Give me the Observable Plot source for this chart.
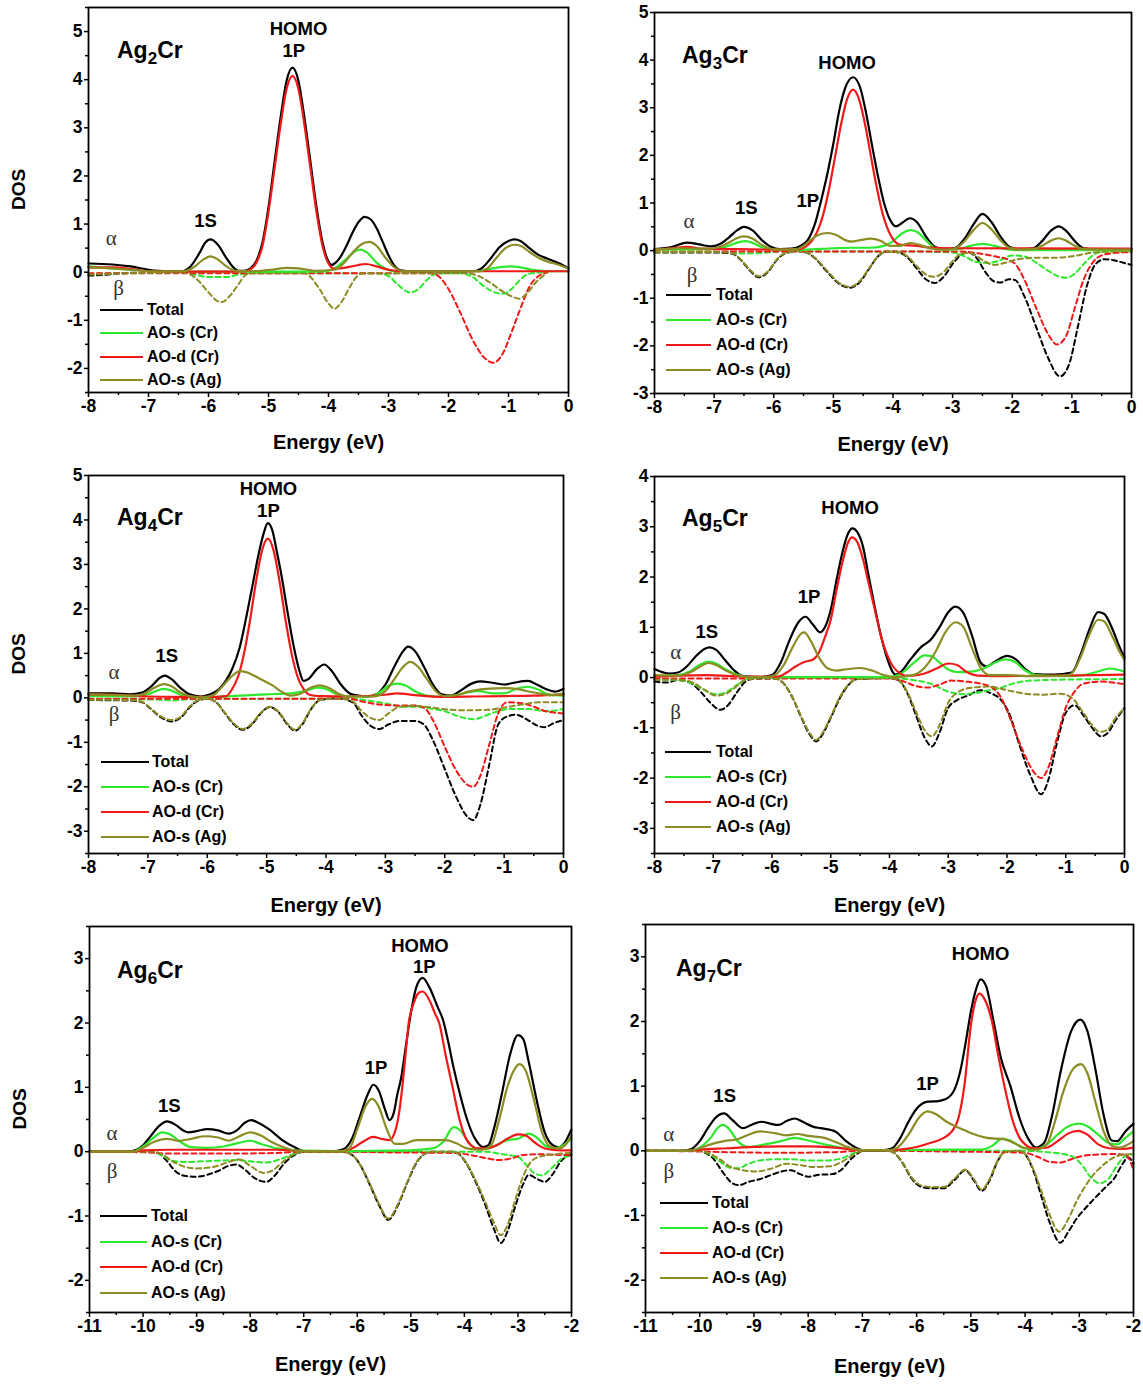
<!DOCTYPE html>
<html>
<head>
<meta charset="utf-8">
<script src="https://cdn.jsdelivr.net/npm/d3@7"></script>
<script src="https://cdn.jsdelivr.net/npm/@observablehq/plot@0.6"></script>
<style>
body{margin:0;background:#fff;}
#wrap{position:relative;width:1143px;height:1384px;overflow:hidden;font-family:"Liberation Sans",Arial,sans-serif;color:#000;}
.cmp{position:absolute;font-weight:bold;font-size:23px;line-height:23px;white-space:nowrap;}
.cmp span{position:relative;top:6px;font-size:17px;}
.leg{position:absolute;font-weight:bold;font-size:16px;line-height:20px;white-space:nowrap;}
</style>
</head>
<body>
<div id="wrap"></div>
<script>
// ---------------- DATA ([energy eV, DOS]) ----------------
// Ag2Cr
const a2_tot_a = [[-8,0.18],[-7.6,0.16],[-7.3,0.12],[-7,0.05],[-6.7,0.02],[-6.45,0.02],[-6.3,0.12],[-6.15,0.4],[-6.05,0.62],[-5.97,0.68],[-5.85,0.58],[-5.72,0.33],[-5.6,0.12],[-5.5,0.03],[-5.4,0.03],[-5.3,0.08],[-5.2,0.24],[-5.1,0.62],[-5.0,1.35],[-4.9,2.28],[-4.8,3.2],[-4.7,3.97],[-4.6,4.25],[-4.5,3.97],[-4.4,3.2],[-4.3,2.28],[-4.2,1.35],[-4.1,0.62],[-4.0,0.22],[-3.95,0.15],[-3.88,0.2],[-3.8,0.32],[-3.7,0.55],[-3.6,0.82],[-3.5,1.04],[-3.4,1.15],[-3.3,1.1],[-3.2,0.92],[-3.1,0.64],[-3.0,0.35],[-2.9,0.13],[-2.8,0.04],[-2.6,0.02],[-1.6,0.02],[-1.45,0.08],[-1.3,0.28],[-1.15,0.52],[-1.0,0.65],[-0.9,0.68],[-0.8,0.65],[-0.65,0.5],[-0.5,0.36],[-0.35,0.28],[-0.15,0.18],[0,0.08]];
const a2_crs_a = [[-8,0.12],[-7.6,0.08],[-7.2,0.04],[-6.8,0.01],[-4.2,0.01],[-4.0,0.03],[-3.85,0.12],[-3.7,0.28],[-3.55,0.44],[-3.47,0.47],[-3.35,0.4],[-3.2,0.2],[-3.05,0.07],[-2.9,0.02],[-1.5,0.02],[-1.3,0.07],[-1.1,0.11],[-0.95,0.12],[-0.8,0.1],[-0.6,0.05],[-0.3,0.02],[0,0.02]];
const a2_crd_a = [[-8,0.1],[-7.6,0.1],[-7.3,0.07],[-7.0,0.02],[-6.5,0.01],[-5.6,0.01],[-5.4,0.02],[-5.3,0.06],[-5.2,0.2],[-5.1,0.55],[-5.0,1.25],[-4.9,2.15],[-4.8,3.05],[-4.7,3.8],[-4.6,4.08],[-4.5,3.8],[-4.4,3.05],[-4.3,2.15],[-4.2,1.25],[-4.1,0.55],[-4.0,0.18],[-3.9,0.07],[-3.8,0.08],[-3.65,0.11],[-3.5,0.15],[-3.38,0.17],[-3.2,0.12],[-3.0,0.05],[-2.8,0.02],[0,0.02]];
const a2_ags_a = [[-8,0.1],[-7.6,0.08],[-7.2,0.04],[-6.8,0.01],[-6.4,0.02],[-6.25,0.1],[-6.1,0.25],[-5.97,0.33],[-5.85,0.27],[-5.7,0.12],[-5.55,0.03],[-5.3,0.02],[-4.9,0.06],[-4.7,0.09],[-4.5,0.08],[-4.2,0.03],[-3.9,0.05],[-3.75,0.18],[-3.6,0.4],[-3.45,0.58],[-3.32,0.63],[-3.2,0.55],[-3.05,0.3],[-2.9,0.1],[-2.75,0.02],[-1.5,0.02],[-1.35,0.08],[-1.2,0.3],[-1.05,0.5],[-0.9,0.57],[-0.8,0.55],[-0.65,0.42],[-0.5,0.3],[-0.35,0.22],[-0.15,0.15],[0,0.07]];
const a2_tot_b = [[-8,-0.07],[-7.8,-0.06],[-7.6,-0.04],[-7.4,-0.02],[-7.2,-0.01]];
const a2_crs_b = [[-8,-0.03],[-6.4,-0.01],[-6.2,-0.06],[-6.0,-0.1],[-5.7,-0.1],[-5.5,-0.05],[-5.3,-0.02],[-3.2,-0.02],[-3.0,-0.08],[-2.85,-0.25],[-2.65,-0.42],[-2.5,-0.35],[-2.35,-0.15],[-2.2,-0.03],[-1.8,-0.02],[-1.6,-0.1],[-1.4,-0.3],[-1.2,-0.43],[-1.1,-0.45],[-0.95,-0.35],[-0.8,-0.15],[-0.65,-0.03],[-0.4,0]];
const a2_crd_b = [[-8,-0.02],[-2.3,-0.02],[-2.15,-0.1],[-2.0,-0.35],[-1.8,-0.85],[-1.6,-1.4],[-1.4,-1.78],[-1.25,-1.88],[-1.1,-1.7],[-0.95,-1.25],[-0.8,-0.75],[-0.65,-0.3],[-0.5,-0.08],[-0.4,-0.02],[-0.35,0]];
const a2_ags_b = [[-8,-0.05],[-7.5,-0.03],[-6.4,-0.01],[-6.3,-0.05],[-6.15,-0.2],[-6.0,-0.42],[-5.85,-0.6],[-5.78,-0.62],[-5.65,-0.5],[-5.5,-0.25],[-5.4,-0.08],[-5.3,-0.02],[-4.4,-0.02],[-4.3,-0.1],[-4.15,-0.35],[-4.0,-0.65],[-3.9,-0.76],[-3.8,-0.65],[-3.65,-0.32],[-3.55,-0.12],[-3.45,-0.03],[-1.7,-0.02],[-1.5,-0.08],[-1.3,-0.22],[-1.1,-0.4],[-0.95,-0.5],[-0.82,-0.55],[-0.7,-0.45],[-0.55,-0.22],[-0.4,-0.05],[-0.35,0]];

// Ag3Cr
const a3_tot_a = [[-8,0.03],[-7.7,0.08],[-7.45,0.17],[-7.25,0.13],[-7.06,0.09],[-6.9,0.14],[-6.75,0.28],[-6.6,0.44],[-6.5,0.5],[-6.35,0.42],[-6.2,0.22],[-6.05,0.08],[-5.9,0.03],[-5.7,0.04],[-5.55,0.1],[-5.43,0.22],[-5.3,0.6],[-5.2,1.08],[-5.1,1.62],[-5.0,2.25],[-4.9,2.95],[-4.8,3.42],[-4.67,3.64],[-4.55,3.42],[-4.45,2.88],[-4.35,2.2],[-4.25,1.55],[-4.15,1.0],[-4.05,0.65],[-3.95,0.51],[-3.85,0.58],[-3.72,0.68],[-3.6,0.6],[-3.45,0.3],[-3.3,0.08],[-3.15,0.03],[-2.95,0.06],[-2.8,0.25],[-2.65,0.55],[-2.5,0.77],[-2.35,0.6],[-2.2,0.3],[-2.05,0.08],[-1.9,0.03],[-1.65,0.05],[-1.5,0.2],[-1.35,0.42],[-1.22,0.51],[-1.1,0.42],[-0.95,0.2],[-0.8,0.05],[-0.6,0.03],[0,0.03]];
const a3_crs_a = [[-8,0.02],[-7.0,0.03],[-6.85,0.06],[-6.7,0.13],[-6.55,0.19],[-6.47,0.2],[-6.35,0.16],[-6.2,0.07],[-6.05,0.02],[-5.5,0.02],[-5.0,0.05],[-4.7,0.06],[-4.4,0.06],[-4.15,0.1],[-4.0,0.2],[-3.85,0.36],[-3.7,0.43],[-3.58,0.38],[-3.45,0.22],[-3.3,0.06],[-3.15,0.02],[-2.9,0.03],[-2.7,0.1],[-2.5,0.14],[-2.3,0.1],[-2.1,0.03],[-1.9,0.01],[0,0.01]];
const a3_crd_a = [[-8,0.02],[-7.7,0.05],[-7.45,0.08],[-7.2,0.04],[-6.6,0.03],[-5.8,0.02],[-5.57,0.03],[-5.47,0.08],[-5.37,0.19],[-5.27,0.4],[-5.17,0.76],[-5.07,1.31],[-4.97,1.98],[-4.87,2.66],[-4.77,3.18],[-4.67,3.38],[-4.57,3.18],[-4.47,2.66],[-4.37,1.98],[-4.27,1.31],[-4.17,0.76],[-4.07,0.4],[-3.97,0.19],[-3.87,0.12],[-3.6,0.1],[-3.4,0.07],[-3.0,0.05],[0,0.04]];
const a3_ags_a = [[-8,0.02],[-7.5,0.05],[-7.1,0.04],[-6.9,0.08],[-6.75,0.17],[-6.6,0.27],[-6.5,0.3],[-6.35,0.25],[-6.2,0.12],[-6.05,0.04],[-5.9,0.02],[-5.6,0.04],[-5.45,0.15],[-5.3,0.3],[-5.1,0.37],[-4.95,0.33],[-4.8,0.22],[-4.7,0.19],[-4.55,0.22],[-4.38,0.25],[-4.2,0.2],[-4.05,0.1],[-3.9,0.1],[-3.72,0.16],[-3.55,0.12],[-3.35,0.04],[-3.1,0.02],[-2.95,0.05],[-2.8,0.2],[-2.65,0.43],[-2.5,0.58],[-2.35,0.45],[-2.2,0.22],[-2.05,0.06],[-1.9,0.02],[-1.65,0.03],[-1.5,0.1],[-1.35,0.21],[-1.22,0.26],[-1.1,0.21],[-0.95,0.1],[-0.8,0.03],[0,0.02]];
const a3_tot_b = [[-8,-0.04],[-7.0,-0.04],[-6.7,-0.06],[-6.55,-0.2],[-6.4,-0.42],[-6.25,-0.56],[-6.1,-0.45],[-5.95,-0.2],[-5.8,-0.05],[-5.6,-0.01],[-5.45,-0.04],[-5.3,-0.17],[-5.1,-0.45],[-4.9,-0.7],[-4.72,-0.78],[-4.55,-0.65],[-4.4,-0.38],[-4.25,-0.12],[-4.1,-0.02],[-3.9,-0.04],[-3.75,-0.15],[-3.6,-0.38],[-3.45,-0.6],[-3.3,-0.68],[-3.15,-0.55],[-3.0,-0.28],[-2.85,-0.08],[-2.75,-0.03],[-2.6,-0.15],[-2.45,-0.45],[-2.3,-0.65],[-2.2,-0.67],[-2.05,-0.6],[-1.95,-0.62],[-1.8,-0.95],[-1.6,-1.6],[-1.4,-2.25],[-1.2,-2.64],[-1.05,-2.4],[-0.9,-1.6],[-0.75,-0.75],[-0.6,-0.28],[-0.45,-0.18],[-0.3,-0.2],[-0.15,-0.25],[0,-0.3]];
const a3_crs_b = [[-8,-0.03],[-6.8,-0.03],[-6.5,-0.06],[-6.2,-0.05],[-5.9,-0.02],[-3.5,-0.02],[-3.0,-0.04],[-2.8,-0.12],[-2.6,-0.24],[-2.4,-0.26],[-2.2,-0.2],[-2.0,-0.1],[-1.8,-0.12],[-1.6,-0.25],[-1.4,-0.42],[-1.2,-0.55],[-1.08,-0.57],[-0.95,-0.48],[-0.8,-0.28],[-0.65,-0.1],[-0.5,-0.03],[0,-0.01]];
const a3_crd_b = [[-8,-0.02],[-2.9,-0.02],[-2.6,-0.05],[-2.3,-0.12],[-2.05,-0.2],[-1.95,-0.28],[-1.8,-0.6],[-1.6,-1.2],[-1.4,-1.75],[-1.25,-1.97],[-1.1,-1.8],[-0.95,-1.2],[-0.8,-0.6],[-0.65,-0.25],[-0.5,-0.1],[-0.3,-0.05],[0,-0.03]];
const a3_ags_b = [[-8,-0.03],[-7.0,-0.03],[-6.7,-0.05],[-6.55,-0.19],[-6.4,-0.4],[-6.25,-0.54],[-6.1,-0.44],[-5.95,-0.19],[-5.8,-0.05],[-5.6,-0.01],[-5.45,-0.04],[-5.3,-0.16],[-5.1,-0.43],[-4.9,-0.68],[-4.72,-0.76],[-4.55,-0.63],[-4.4,-0.37],[-4.25,-0.12],[-4.1,-0.02],[-3.9,-0.03],[-3.75,-0.13],[-3.6,-0.33],[-3.45,-0.5],[-3.32,-0.55],[-3.15,-0.45],[-3.0,-0.22],[-2.85,-0.06],[-2.7,-0.05],[-2.5,-0.2],[-2.3,-0.3],[-2.1,-0.25],[-1.9,-0.18],[-1.6,-0.15],[-1.3,-0.15],[-1.0,-0.12],[-0.7,-0.05],[-0.4,-0.02],[0,-0.01]];

// Ag4Cr
const a4_tot_a = [[-8,0.1],[-7.6,0.1],[-7.3,0.08],[-7.1,0.12],[-6.95,0.25],[-6.8,0.45],[-6.72,0.5],[-6.6,0.42],[-6.45,0.22],[-6.3,0.08],[-6.1,0.03],[-5.95,0.08],[-5.8,0.2],[-5.68,0.4],[-5.58,0.65],[-5.45,1.15],[-5.33,1.9],[-5.22,2.65],[-5.14,3.2],[-5.05,3.7],[-4.98,3.93],[-4.9,3.75],[-4.83,3.3],[-4.75,2.75],[-4.65,1.95],[-4.55,1.2],[-4.45,0.62],[-4.38,0.38],[-4.3,0.42],[-4.15,0.65],[-4.03,0.75],[-3.9,0.6],[-3.75,0.3],[-3.6,0.1],[-3.45,0.05],[-3.3,0.03],[-3.15,0.08],[-3.0,0.3],[-2.85,0.7],[-2.7,1.05],[-2.62,1.15],[-2.5,1.05],[-2.35,0.7],[-2.2,0.3],[-2.05,0.08],[-1.9,0.05],[-1.75,0.15],[-1.55,0.32],[-1.4,0.37],[-1.2,0.34],[-1.0,0.3],[-0.8,0.35],[-0.6,0.38],[-0.45,0.3],[-0.3,0.2],[-0.15,0.14],[0,0.2]];
const a4_crs_a = [[-8,0.04],[-7.2,0.03],[-7.0,0.08],[-6.85,0.16],[-6.73,0.2],[-6.6,0.16],[-6.45,0.07],[-6.3,0.02],[-6.0,0.01],[-5.6,0.04],[-5.0,0.08],[-4.6,0.1],[-4.35,0.15],[-4.15,0.23],[-4.0,0.2],[-3.85,0.1],[-3.65,0.03],[-3.3,0.03],[-3.1,0.12],[-2.95,0.27],[-2.8,0.32],[-2.65,0.27],[-2.5,0.15],[-2.3,0.05],[-2.05,0.02],[-1.8,0.06],[-1.6,0.13],[-1.42,0.15],[-1.2,0.1],[-1.0,0.1],[-0.8,0.2],[-0.6,0.25],[-0.45,0.2],[-0.25,0.08],[0,0.05]];
const a4_crd_a = [[-8,0.08],[-7.5,0.07],[-7.0,0.03],[-6.5,0.02],[-6.0,0.02],[-5.68,0.04],[-5.58,0.2],[-5.48,0.48],[-5.38,1.0],[-5.28,1.74],[-5.18,2.6],[-5.08,3.3],[-4.98,3.58],[-4.88,3.3],[-4.78,2.6],[-4.68,1.74],[-4.58,1.0],[-4.48,0.48],[-4.38,0.2],[-4.28,0.07],[-4.1,0.04],[-3.6,0.03],[-3.0,0.07],[-2.8,0.1],[-2.5,0.06],[-2.0,0.02],[-1.5,0.03],[-1.0,0.04],[-0.5,0.05],[0,0.08]];
const a4_ags_a = [[-8,0.08],[-7.5,0.06],[-7.2,0.05],[-7.05,0.1],[-6.9,0.22],[-6.73,0.31],[-6.6,0.26],[-6.45,0.12],[-6.3,0.04],[-6.1,0.01],[-5.9,0.06],[-5.75,0.25],[-5.6,0.47],[-5.45,0.6],[-5.35,0.58],[-5.1,0.42],[-4.9,0.28],[-4.75,0.14],[-4.6,0.05],[-4.45,0.08],[-4.3,0.2],[-4.1,0.28],[-3.95,0.22],[-3.8,0.1],[-3.6,0.03],[-3.2,0.03],[-3.0,0.15],[-2.85,0.42],[-2.7,0.7],[-2.58,0.81],[-2.45,0.7],[-2.3,0.42],[-2.15,0.15],[-2.0,0.04],[-1.8,0.06],[-1.6,0.14],[-1.3,0.2],[-1.0,0.22],[-0.8,0.2],[-0.5,0.12],[-0.2,0.06],[0,0.1]];
const a4_tot_b = [[-8,-0.05],[-7.3,-0.06],[-7.1,-0.1],[-6.95,-0.25],[-6.8,-0.42],[-6.6,-0.53],[-6.45,-0.45],[-6.3,-0.22],[-6.15,-0.06],[-6.0,-0.02],[-5.85,-0.1],[-5.7,-0.35],[-5.55,-0.6],[-5.4,-0.72],[-5.25,-0.6],[-5.1,-0.35],[-4.95,-0.21],[-4.8,-0.32],[-4.65,-0.6],[-4.52,-0.74],[-4.4,-0.6],[-4.25,-0.25],[-4.1,-0.05],[-3.8,-0.01],[-3.55,-0.1],[-3.4,-0.4],[-3.25,-0.63],[-3.1,-0.7],[-2.95,-0.6],[-2.75,-0.52],[-2.5,-0.52],[-2.35,-0.6],[-2.2,-0.95],[-2.0,-1.6],[-1.8,-2.25],[-1.6,-2.7],[-1.52,-2.75],[-1.4,-2.4],[-1.25,-1.5],[-1.1,-0.6],[-0.95,-0.42],[-0.8,-0.38],[-0.6,-0.5],[-0.45,-0.62],[-0.32,-0.66],[-0.15,-0.56],[0,-0.5]];
const a4_crs_b = [[-8,-0.03],[-6.8,-0.04],[-6.6,-0.06],[-6.3,-0.03],[-3.6,-0.02],[-3.2,-0.08],[-2.9,-0.15],[-2.7,-0.2],[-2.5,-0.2],[-2.2,-0.25],[-2.0,-0.3],[-1.8,-0.4],[-1.6,-0.47],[-1.5,-0.48],[-1.35,-0.42],[-1.15,-0.32],[-0.9,-0.25],[-0.6,-0.25],[-0.3,-0.3],[0,-0.25]];
const a4_crd_b = [[-8,-0.02],[-3.6,-0.02],[-3.4,-0.08],[-3.1,-0.15],[-2.8,-0.17],[-2.5,-0.17],[-2.35,-0.22],[-2.2,-0.5],[-2.0,-1.1],[-1.8,-1.65],[-1.6,-1.97],[-1.52,-2.0],[-1.4,-1.75],[-1.25,-1.05],[-1.1,-0.35],[-0.95,-0.1],[-0.7,-0.12],[-0.5,-0.2],[-0.3,-0.3],[0,-0.35]];
const a4_ags_b = [[-8,-0.04],[-7.3,-0.05],[-7.1,-0.09],[-6.95,-0.24],[-6.8,-0.4],[-6.6,-0.5],[-6.45,-0.43],[-6.3,-0.2],[-6.15,-0.05],[-6.0,-0.02],[-5.85,-0.1],[-5.7,-0.34],[-5.55,-0.58],[-5.4,-0.7],[-5.25,-0.58],[-5.1,-0.34],[-4.95,-0.2],[-4.8,-0.31],[-4.65,-0.58],[-4.52,-0.72],[-4.4,-0.58],[-4.25,-0.24],[-4.1,-0.05],[-3.8,-0.01],[-3.55,-0.08],[-3.4,-0.3],[-3.25,-0.45],[-3.1,-0.5],[-2.95,-0.35],[-2.75,-0.2],[-2.5,-0.18],[-2.2,-0.22],[-1.9,-0.27],[-1.6,-0.28],[-1.3,-0.27],[-1.0,-0.22],[-0.7,-0.15],[-0.4,-0.1],[0,-0.1]];

// Ag5Cr
const a5_tot_a = [[-8,0.17],[-7.9,0.12],[-7.75,0.08],[-7.6,0.1],[-7.45,0.22],[-7.3,0.42],[-7.15,0.57],[-7.06,0.6],[-6.95,0.55],[-6.8,0.35],[-6.65,0.15],[-6.5,0.03],[-6.2,0.01],[-6.0,0.05],[-5.85,0.3],[-5.7,0.75],[-5.55,1.1],[-5.43,1.21],[-5.3,1.05],[-5.18,0.9],[-5.1,1.0],[-5.0,1.35],[-4.9,1.95],[-4.8,2.5],[-4.7,2.88],[-4.63,2.97],[-4.55,2.9],[-4.45,2.6],[-4.36,2.05],[-4.25,1.4],[-4.15,0.85],[-4.05,0.42],[-3.95,0.12],[-3.9,0.06],[-3.8,0.12],[-3.65,0.35],[-3.45,0.62],[-3.3,0.75],[-3.15,1.0],[-3.0,1.3],[-2.88,1.41],[-2.75,1.3],[-2.6,0.85],[-2.45,0.3],[-2.35,0.22],[-2.2,0.32],[-2.0,0.43],[-1.85,0.36],[-1.7,0.18],[-1.55,0.07],[-1.2,0.06],[-0.9,0.1],[-0.75,0.45],[-0.6,0.95],[-0.45,1.3],[-0.35,1.27],[-0.2,0.95],[-0.1,0.65],[0,0.4]];
const a5_crs_a = [[-8,0.03],[-7.6,0.05],[-7.4,0.12],[-7.25,0.24],[-7.08,0.32],[-6.95,0.28],[-6.8,0.17],[-6.6,0.06],[-6.4,0.01],[-4.0,0.01],[-3.8,0.08],[-3.6,0.28],[-3.4,0.44],[-3.3,0.43],[-3.15,0.3],[-3.0,0.16],[-2.85,0.11],[-2.6,0.12],[-2.4,0.18],[-2.2,0.3],[-2.02,0.36],[-1.85,0.3],[-1.7,0.15],[-1.5,0.05],[-1.0,0.03],[-0.7,0.05],[-0.45,0.12],[-0.25,0.18],[-0.1,0.15],[0,0.12]];
const a5_crd_a = [[-8,0.02],[-7.5,0.04],[-7.1,0.05],[-6.7,0.03],[-6.3,0.02],[-5.9,0.02],[-5.75,0.1],[-5.6,0.22],[-5.45,0.31],[-5.3,0.36],[-5.2,0.5],[-5.1,0.8],[-5.0,1.15],[-4.9,1.75],[-4.8,2.3],[-4.7,2.7],[-4.64,2.79],[-4.55,2.7],[-4.45,2.35],[-4.35,1.85],[-4.24,1.3],[-4.14,0.8],[-4.04,0.45],[-3.94,0.22],[-3.84,0.1],[-3.74,0.04],[-3.6,0.04],[-3.4,0.08],[-3.2,0.18],[-3.0,0.28],[-2.85,0.25],[-2.7,0.12],[-2.5,0.04],[-2.0,0.03],[-1.0,0.04],[-0.5,0.05],[0,0.06]];
const a5_ags_a = [[-8,0.05],[-7.6,0.04],[-7.4,0.1],[-7.25,0.2],[-7.08,0.29],[-6.95,0.25],[-6.8,0.15],[-6.6,0.05],[-6.4,0.01],[-6.1,0.01],[-5.95,0.05],[-5.8,0.25],[-5.65,0.6],[-5.5,0.88],[-5.45,0.9],[-5.35,0.75],[-5.2,0.4],[-5.05,0.18],[-4.9,0.14],[-4.7,0.17],[-4.5,0.19],[-4.3,0.14],[-4.1,0.05],[-3.9,0.01],[-3.6,0.05],[-3.4,0.2],[-3.2,0.55],[-3.05,0.9],[-2.88,1.1],[-2.75,1.02],[-2.6,0.6],[-2.45,0.2],[-2.3,0.05],[-2.0,0.05],[-1.6,0.03],[-1.0,0.04],[-0.9,0.08],[-0.75,0.4],[-0.6,0.85],[-0.45,1.15],[-0.35,1.12],[-0.2,0.8],[-0.1,0.55],[0,0.35]];
const a5_tot_b = [[-8,-0.08],[-7.8,-0.1],[-7.6,-0.05],[-7.4,-0.1],[-7.2,-0.3],[-7.05,-0.5],[-6.88,-0.64],[-6.75,-0.55],[-6.6,-0.3],[-6.45,-0.08],[-6.3,-0.02],[-5.95,-0.02],[-5.8,-0.12],[-5.65,-0.4],[-5.5,-0.8],[-5.35,-1.15],[-5.25,-1.27],[-5.15,-1.15],[-5.0,-0.8],[-4.85,-0.42],[-4.7,-0.15],[-4.55,-0.03],[-4.0,-0.01],[-3.85,-0.05],[-3.7,-0.3],[-3.55,-0.75],[-3.4,-1.2],[-3.28,-1.37],[-3.15,-1.1],[-3.0,-0.6],[-2.85,-0.45],[-2.65,-0.35],[-2.45,-0.25],[-2.3,-0.3],[-2.1,-0.45],[-1.95,-0.75],[-1.8,-1.3],[-1.6,-1.95],[-1.42,-2.32],[-1.3,-2.05],[-1.15,-1.3],[-1.0,-0.7],[-0.85,-0.55],[-0.7,-0.75],[-0.55,-1.0],[-0.4,-1.17],[-0.3,-1.12],[-0.15,-0.85],[0,-0.6]];
const a5_crs_b = [[-8,-0.04],[-7.6,-0.05],[-7.35,-0.12],[-7.15,-0.25],[-6.95,-0.33],[-6.8,-0.3],[-6.6,-0.15],[-6.45,-0.04],[-6.2,-0.01],[-4.0,-0.01],[-3.6,-0.05],[-3.3,-0.12],[-3.0,-0.28],[-2.75,-0.33],[-2.5,-0.3],[-2.3,-0.25],[-2.1,-0.2],[-1.9,-0.12],[-1.6,-0.06],[-1.0,-0.04],[0,-0.03]];
const a5_crd_b = [[-8,-0.02],[-4.0,-0.02],[-3.75,-0.08],[-3.55,-0.17],[-3.35,-0.2],[-3.15,-0.14],[-2.95,-0.06],[-2.7,-0.08],[-2.45,-0.12],[-2.25,-0.2],[-2.1,-0.4],[-1.95,-0.8],[-1.75,-1.4],[-1.55,-1.87],[-1.42,-2.0],[-1.3,-1.8],[-1.15,-1.2],[-1.0,-0.6],[-0.85,-0.28],[-0.7,-0.12],[-0.4,-0.08],[-0.2,-0.1],[0,-0.13]];
const a5_ags_b = [[-8,-0.05],[-7.6,-0.04],[-7.35,-0.1],[-7.15,-0.24],[-6.95,-0.36],[-6.8,-0.33],[-6.6,-0.17],[-6.45,-0.05],[-6.2,-0.01],[-5.95,-0.02],[-5.8,-0.12],[-5.65,-0.4],[-5.5,-0.78],[-5.35,-1.12],[-5.25,-1.24],[-5.15,-1.12],[-5.0,-0.78],[-4.85,-0.4],[-4.7,-0.14],[-4.55,-0.03],[-4.0,-0.01],[-3.85,-0.05],[-3.7,-0.28],[-3.55,-0.68],[-3.4,-1.05],[-3.28,-1.17],[-3.15,-0.95],[-3.0,-0.5],[-2.85,-0.3],[-2.6,-0.2],[-2.3,-0.18],[-2.0,-0.25],[-1.7,-0.32],[-1.4,-0.34],[-1.1,-0.32],[-0.9,-0.4],[-0.7,-0.7],[-0.55,-0.95],[-0.42,-1.08],[-0.3,-1.05],[-0.15,-0.8],[0,-0.6]];

// Ag6Cr
const a6_tot_a = [[-11,0],[-10.3,0],[-10.15,0.02],[-10.0,0.1],[-9.85,0.25],[-9.7,0.4],[-9.55,0.47],[-9.4,0.42],[-9.25,0.33],[-9.15,0.3],[-9.0,0.32],[-8.8,0.35],[-8.6,0.33],[-8.4,0.28],[-8.25,0.33],[-8.1,0.45],[-7.98,0.49],[-7.85,0.45],[-7.65,0.35],[-7.4,0.18],[-7.15,0.06],[-7.0,0.01],[-6.4,0.01],[-6.25,0.04],[-6.1,0.2],[-5.95,0.55],[-5.8,0.9],[-5.7,1.04],[-5.6,0.95],[-5.48,0.65],[-5.4,0.49],[-5.32,0.6],[-5.25,0.9],[-5.18,1.15],[-5.1,1.6],[-5.0,2.15],[-4.9,2.55],[-4.78,2.7],[-4.65,2.55],[-4.5,2.25],[-4.4,2.05],[-4.3,1.7],[-4.2,1.3],[-4.1,0.95],[-3.95,0.5],[-3.8,0.2],[-3.65,0.07],[-3.55,0.1],[-3.45,0.35],[-3.3,0.9],[-3.15,1.5],[-3.0,1.81],[-2.9,1.75],[-2.8,1.4],[-2.65,0.8],[-2.5,0.3],[-2.35,0.1],[-2.25,0.07],[-2.12,0.15],[-2.0,0.35]];
const a6_crs_a = [[-11,0],[-10.2,0],[-10.0,0.08],[-9.8,0.22],[-9.65,0.3],[-9.5,0.27],[-9.3,0.15],[-9.1,0.07],[-8.8,0.06],[-8.5,0.08],[-8.2,0.14],[-8.0,0.17],[-7.8,0.12],[-7.5,0.05],[-7.2,0.02],[-6.3,0.01],[-5.0,0.02],[-4.6,0.05],[-4.4,0.15],[-4.2,0.38],[-4.1,0.35],[-3.95,0.18],[-3.8,0.06],[-3.6,0.04],[-3.4,0.1],[-3.2,0.18],[-3.0,0.2],[-2.8,0.28],[-2.65,0.22],[-2.5,0.1],[-2.35,0.05],[-2.2,0.08],[-2.0,0.2]];
const a6_crd_a = [[-11,0],[-10.2,0],[-10.0,0.02],[-9.5,0.03],[-8.5,0.03],[-7.5,0.03],[-7.0,0.01],[-6.3,0.01],[-6.1,0.05],[-5.9,0.15],[-5.7,0.23],[-5.55,0.2],[-5.4,0.18],[-5.3,0.3],[-5.22,0.6],[-5.16,1.0],[-5.1,1.5],[-5.04,2.0],[-4.95,2.3],[-4.85,2.47],[-4.78,2.49],[-4.65,2.35],[-4.55,2.15],[-4.47,2.0],[-4.35,1.5],[-4.22,1.0],[-4.09,0.5],[-3.98,0.22],[-3.88,0.1],[-3.75,0.05],[-3.6,0.05],[-3.4,0.1],[-3.2,0.2],[-3.0,0.27],[-2.85,0.25],[-2.7,0.15],[-2.5,0.05],[-2.2,0.02],[-2.0,0.02]];
const a6_ags_a = [[-11,0],[-10.2,0],[-10.0,0.06],[-9.8,0.15],[-9.55,0.2],[-9.35,0.17],[-9.1,0.2],[-8.85,0.24],[-8.6,0.22],[-8.4,0.17],[-8.2,0.24],[-8.0,0.3],[-7.8,0.25],[-7.6,0.15],[-7.35,0.06],[-7.1,0.01],[-6.3,0.01],[-6.15,0.05],[-6.0,0.35],[-5.85,0.7],[-5.72,0.82],[-5.6,0.7],[-5.45,0.35],[-5.3,0.12],[-5.15,0.12],[-4.9,0.18],[-4.6,0.18],[-4.35,0.18],[-4.15,0.13],[-3.95,0.05],[-3.7,0.03],[-3.5,0.1],[-3.35,0.5],[-3.2,1.0],[-3.05,1.3],[-2.97,1.36],[-2.85,1.25],[-2.7,0.8],[-2.55,0.3],[-2.4,0.08],[-2.25,0.05],[-2.1,0.12],[-2.0,0.25]];
const a6_tot_b = [[-11,0],[-9.8,0],[-9.7,-0.03],[-9.55,-0.15],[-9.4,-0.3],[-9.2,-0.38],[-9.0,-0.39],[-8.8,-0.36],[-8.6,-0.3],[-8.4,-0.22],[-8.25,-0.2],[-8.1,-0.28],[-7.9,-0.42],[-7.7,-0.47],[-7.55,-0.38],[-7.35,-0.17],[-7.15,-0.04],[-7.0,0],[-6.3,0],[-6.1,-0.05],[-5.95,-0.2],[-5.8,-0.45],[-5.6,-0.82],[-5.42,-1.06],[-5.25,-0.85],[-5.05,-0.45],[-4.9,-0.18],[-4.75,-0.04],[-4.6,0],[-4.2,0],[-4.1,-0.04],[-3.95,-0.2],[-3.8,-0.45],[-3.6,-0.85],[-3.45,-1.2],[-3.32,-1.42],[-3.2,-1.25],[-3.05,-0.85],[-2.9,-0.5],[-2.8,-0.36],[-2.65,-0.42],[-2.5,-0.47],[-2.35,-0.35],[-2.2,-0.15],[-2.0,-0.05]];
const a6_crs_b = [[-11,0],[-9.8,0],[-9.65,-0.06],[-9.45,-0.14],[-9.2,-0.16],[-8.9,-0.15],[-8.6,-0.14],[-8.3,-0.13],[-8.0,-0.15],[-7.7,-0.17],[-7.45,-0.12],[-7.2,-0.04],[-7.0,0],[-3.6,0],[-3.3,-0.04],[-3.0,-0.08],[-2.85,-0.2],[-2.7,-0.33],[-2.55,-0.37],[-2.4,-0.28],[-2.2,-0.12],[-2.0,-0.05]];
const a6_crd_b = [[-11,0],[-10,-0.01],[-9.5,-0.03],[-8.5,-0.03],[-7.5,-0.02],[-7.0,0],[-6.2,0],[-5.5,-0.01],[-4.2,-0.02],[-3.9,-0.05],[-3.6,-0.1],[-3.35,-0.13],[-3.1,-0.1],[-2.9,-0.05],[-2.6,-0.04],[-2.2,-0.05],[-2.0,-0.05]];
const a6_ags_b = [[-11,0],[-9.8,0],[-9.65,-0.04],[-9.45,-0.15],[-9.2,-0.24],[-9.0,-0.26],[-8.7,-0.24],[-8.4,-0.16],[-8.2,-0.12],[-8.0,-0.22],[-7.75,-0.33],[-7.6,-0.3],[-7.35,-0.13],[-7.15,-0.03],[-7.0,0],[-6.3,0],[-6.1,-0.05],[-5.95,-0.2],[-5.8,-0.44],[-5.6,-0.8],[-5.42,-1.04],[-5.25,-0.83],[-5.05,-0.44],[-4.9,-0.17],[-4.75,-0.04],[-4.6,0],[-4.2,0],[-4.1,-0.04],[-3.95,-0.19],[-3.8,-0.43],[-3.6,-0.8],[-3.45,-1.1],[-3.32,-1.3],[-3.2,-1.15],[-3.05,-0.75],[-2.9,-0.38],[-2.75,-0.15],[-2.6,-0.08],[-2.4,-0.05],[-2.0,-0.02]];

// Ag7Cr
const a7_tot_a = [[-11,0],[-10.3,0],[-10.15,0.03],[-10.0,0.15],[-9.85,0.35],[-9.7,0.52],[-9.55,0.58],[-9.4,0.48],[-9.2,0.35],[-9.05,0.4],[-8.86,0.45],[-8.7,0.42],[-8.55,0.4],[-8.4,0.46],[-8.25,0.5],[-8.1,0.45],[-7.9,0.37],[-7.77,0.35],[-7.5,0.3],[-7.3,0.15],[-7.1,0.04],[-7.0,0.01],[-6.6,0.01],[-6.45,0.04],[-6.3,0.2],[-6.15,0.45],[-6.0,0.65],[-5.8,0.76],[-5.6,0.77],[-5.46,0.8],[-5.3,0.95],[-5.19,1.25],[-5.1,1.65],[-5.0,2.15],[-4.92,2.45],[-4.82,2.65],[-4.72,2.55],[-4.58,2.0],[-4.45,1.45],[-4.27,1.0],[-4.1,0.5],[-3.95,0.2],[-3.8,0.05],[-3.65,0.12],[-3.5,0.55],[-3.35,1.2],[-3.15,1.85],[-2.98,2.03],[-2.85,1.85],[-2.7,1.25],[-2.55,0.55],[-2.4,0.16],[-2.3,0.15],[-2.15,0.3],[-2.0,0.42]];
const a7_crs_a = [[-11,0],[-10.2,0],[-10.0,0.05],[-9.8,0.2],[-9.65,0.37],[-9.57,0.4],[-9.45,0.33],[-9.3,0.15],[-9.1,0.06],[-8.8,0.1],[-8.5,0.15],[-8.25,0.2],[-8.0,0.16],[-7.7,0.1],[-7.4,0.05],[-7.1,0.01],[-6.5,0.01],[-5.5,0.02],[-4.8,0.02],[-4.6,0.08],[-4.42,0.19],[-4.25,0.15],[-4.05,0.05],[-3.8,0.03],[-3.6,0.1],[-3.4,0.25],[-3.2,0.38],[-3.0,0.42],[-2.85,0.38],[-2.65,0.25],[-2.45,0.12],[-2.3,0.1],[-2.15,0.2],[-2.0,0.3]];
const a7_crd_a = [[-11,0],[-10.2,0],[-10.0,0.02],[-9.5,0.04],[-9.0,0.06],[-8.5,0.07],[-8.0,0.07],[-7.5,0.05],[-7.0,0.01],[-6.5,0.01],[-6.2,0.03],[-6.0,0.06],[-5.75,0.12],[-5.5,0.2],[-5.35,0.3],[-5.23,0.5],[-5.12,1.0],[-4.99,2.0],[-4.92,2.3],[-4.84,2.43],[-4.75,2.35],[-4.61,2.0],[-4.5,1.5],[-4.38,1.0],[-4.24,0.5],[-4.1,0.2],[-4.0,0.1],[-3.85,0.04],[-3.6,0.05],[-3.4,0.15],[-3.2,0.27],[-3.02,0.31],[-2.85,0.25],[-2.65,0.1],[-2.45,0.04],[-2.2,0.03],[-2.0,0.05]];
const a7_ags_a = [[-11,0],[-10.2,0],[-10.0,0.04],[-9.8,0.1],[-9.55,0.15],[-9.3,0.18],[-9.1,0.25],[-8.88,0.3],[-8.6,0.27],[-8.4,0.24],[-8.2,0.26],[-8.0,0.23],[-7.7,0.2],[-7.45,0.12],[-7.2,0.04],[-7.0,0.01],[-6.5,0.01],[-6.35,0.05],[-6.15,0.25],[-5.95,0.52],[-5.8,0.61],[-5.65,0.57],[-5.45,0.45],[-5.2,0.35],[-4.95,0.26],[-4.7,0.2],[-4.4,0.18],[-4.2,0.12],[-4.0,0.04],[-3.8,0.02],[-3.6,0.1],[-3.45,0.45],[-3.3,0.9],[-3.1,1.28],[-2.97,1.34],[-2.85,1.2],[-2.7,0.75],[-2.55,0.3],[-2.4,0.08],[-2.25,0.05],[-2.1,0.1],[-2.0,0.15]];
const a7_tot_b = [[-11,0],[-10.0,0],[-9.9,-0.03],[-9.75,-0.12],[-9.6,-0.3],[-9.4,-0.5],[-9.28,-0.53],[-9.1,-0.48],[-8.9,-0.44],[-8.7,-0.38],[-8.5,-0.32],[-8.32,-0.3],[-8.15,-0.36],[-8.0,-0.4],[-7.8,-0.37],[-7.55,-0.36],[-7.4,-0.3],[-7.2,-0.12],[-7.05,-0.02],[-7.0,0],[-6.5,0],[-6.4,-0.04],[-6.25,-0.2],[-6.1,-0.42],[-5.9,-0.56],[-5.7,-0.58],[-5.5,-0.58],[-5.3,-0.45],[-5.1,-0.3],[-4.95,-0.45],[-4.8,-0.62],[-4.65,-0.45],[-4.5,-0.15],[-4.38,-0.02],[-4.1,0],[-4.0,-0.05],[-3.85,-0.3],[-3.7,-0.7],[-3.55,-1.1],[-3.35,-1.42],[-3.2,-1.25],[-3.05,-1.05],[-2.9,-0.9],[-2.7,-0.72],[-2.5,-0.55],[-2.35,-0.42],[-2.2,-0.2],[-2.1,-0.1],[-2.0,-0.2]];
const a7_crs_b = [[-11,0],[-10.0,0],[-9.85,-0.04],[-9.65,-0.15],[-9.45,-0.26],[-9.3,-0.27],[-9.1,-0.2],[-8.9,-0.15],[-8.6,-0.13],[-8.3,-0.13],[-8.0,-0.15],[-7.7,-0.15],[-7.4,-0.12],[-7.2,-0.05],[-7.0,0],[-4.0,0],[-3.6,-0.02],[-3.3,-0.05],[-3.1,-0.1],[-2.95,-0.22],[-2.8,-0.4],[-2.62,-0.5],[-2.45,-0.42],[-2.3,-0.22],[-2.15,-0.08],[-2.0,-0.05]];
const a7_crd_b = [[-11,0],[-10,-0.01],[-9.5,-0.02],[-8.5,-0.03],[-7.5,-0.02],[-7.0,0],[-6.5,0],[-5.5,-0.01],[-4.5,-0.02],[-4.0,-0.03],[-3.75,-0.1],[-3.55,-0.17],[-3.35,-0.18],[-3.15,-0.13],[-2.95,-0.08],[-2.7,-0.06],[-2.4,-0.05],[-2.15,-0.06],[-2.05,-0.18],[-2.0,-0.3]];
const a7_ags_b = [[-11,0],[-10.0,0],[-9.85,-0.03],[-9.65,-0.12],[-9.45,-0.24],[-9.2,-0.3],[-8.95,-0.32],[-8.7,-0.28],[-8.4,-0.2],[-8.15,-0.22],[-7.9,-0.25],[-7.6,-0.24],[-7.4,-0.18],[-7.2,-0.08],[-7.0,0],[-6.5,0],[-6.4,-0.04],[-6.25,-0.19],[-6.1,-0.4],[-5.9,-0.54],[-5.7,-0.56],[-5.5,-0.56],[-5.3,-0.43],[-5.1,-0.29],[-4.95,-0.43],[-4.8,-0.6],[-4.65,-0.43],[-4.5,-0.14],[-4.38,-0.02],[-4.1,0],[-4.0,-0.05],[-3.85,-0.28],[-3.7,-0.62],[-3.55,-0.98],[-3.37,-1.25],[-3.2,-1.05],[-3.05,-0.78],[-2.9,-0.56],[-2.75,-0.38],[-2.6,-0.25],[-2.4,-0.12],[-2.2,-0.06],[-2.0,-0.05]];

// tick labels
const xTicks8 = [-8,-7,-6,-5,-4,-3,-2,-1,0];
const xTicks11 = [-11,-10,-9,-8,-7,-6,-5,-4,-3,-2];
const yTicksP1 = [-2,-1,0,1,2,3,4,5];
const yTicksP2 = [-3,-2,-1,0,1,2,3,4,5];
const yTicksP3 = [-3,-2,-1,0,1,2,3,4,5];
const yTicksP4 = [-3,-2,-1,0,1,2,3,4];
const yTicksP56 = [-2,-1,0,1,2,3];

// series names & annotations
const legendLabels = ["Total","AO-s (Cr)","AO-d (Cr)","AO-s (Ag)"];
const subscripts = ["2","3","4","5","6","7"];
const notes1 = [{t:"HOMO",e:-4.5,v:5.06},{t:"1P",e:-4.58,v:4.6},{t:"1S",e:-6.05,v:1.07}];
const notes2 = [{t:"HOMO",e:-4.77,v:3.94},{t:"1P",e:-5.43,v:1.04},{t:"1S",e:-6.46,v:0.9}];
const notes3 = [{t:"HOMO",e:-4.97,v:4.69},{t:"1P",e:-4.97,v:4.2},{t:"1S",e:-6.68,v:0.93}];
const notes4 = [{t:"HOMO",e:-4.67,v:3.37},{t:"1P",e:-5.37,v:1.6},{t:"1S",e:-7.11,v:0.9}];
const notes5 = [{t:"HOMO",e:-4.83,v:3.2},{t:"1P",e:-4.75,v:2.87},{t:"1P",e:-5.65,v:1.3},{t:"1S",e:-9.51,v:0.71}];
const notes6 = [{t:"HOMO",e:-4.82,v:3.04},{t:"1P",e:-5.8,v:1.04},{t:"1S",e:-9.54,v:0.85}];
const spin1 = [{t:"α",e:-7.62,v:0.71},{t:"β",e:-7.5,v:-0.33}];
const spin2 = [{t:"α",e:-7.42,v:0.62},{t:"β",e:-7.37,v:-0.52}];
const spin3 = [{t:"α",e:-7.57,v:0.57},{t:"β",e:-7.57,v:-0.36}];
const spin4 = [{t:"α",e:-7.64,v:0.5},{t:"β",e:-7.64,v:-0.7}];
const spin5 = [{t:"α",e:-10.58,v:0.28},{t:"β",e:-10.58,v:-0.31}];
const spin6 = [{t:"α",e:-10.57,v:0.26},{t:"β",e:-10.57,v:-0.31}];

// ---------------- LAYOUT / STYLE ----------------
const colors = ["#000000","#2ee82e","#f01818","#8c8c24"];
const FONT = '"Liberation Sans", Arial, Helvetica, sans-serif';
const SERIF = '"Liberation Serif", "DejaVu Serif", serif';

const panels = [
  {alpha:[a2_tot_a,a2_crs_a,a2_crd_a,a2_ags_a], beta:[a2_tot_b,a2_crs_b,a2_crd_b,a2_ags_b], xd:[-8,0], yd:[-2.5,5.5], xt:xTicks8, yt:yTicksP1, notes:notes1, spin:spin1,
   box:{left:0,top:0,w:575,h:465,mL:88,mR:7,mT:7,mB:73}, xlabDy:56, dos:true, leg:{x1:100,x2:143,tx:147,rows:[310,333,357,380]}, name:{x:117,y:50}},
  {alpha:[a3_tot_a,a3_crs_a,a3_crd_a,a3_ags_a], beta:[a3_tot_b,a3_crs_b,a3_crd_b,a3_ags_b], xd:[-8,0], yd:[-3,5], xt:xTicks8, yt:yTicksP2, notes:notes2, spin:spin2,
   box:{left:570,top:0,w:573,h:465,mL:84,mR:12,mT:12,mB:72}, xlabDy:57, dos:false, leg:{x1:666,x2:711,tx:716,rows:[295,320,345,370]}, name:{x:682,y:55}},
  {alpha:[a4_tot_a,a4_crs_a,a4_crd_a,a4_ags_a], beta:[a4_tot_b,a4_crs_b,a4_crd_b,a4_ags_b], xd:[-8,0], yd:[-3.5,5], xt:xTicks8, yt:yTicksP3, notes:notes3, spin:spin3,
   box:{left:0,top:460,w:575,h:465,mL:88,mR:12,mT:15,mB:72}, xlabDy:58, dos:true, leg:{x1:101,x2:149,tx:152,rows:[762,787,812,837]}, name:{x:117,y:517}},
  {alpha:[a5_tot_a,a5_crs_a,a5_crd_a,a5_ags_a], beta:[a5_tot_b,a5_crs_b,a5_crd_b,a5_ags_b], xd:[-8,0], yd:[-3.5,4], xt:xTicks8, yt:yTicksP4, notes:notes4, spin:spin4,
   box:{left:570,top:460,w:573,h:465,mL:84,mR:19,mT:16,mB:72}, xlabDy:58, dos:false, leg:{x1:665,x2:711,tx:716,rows:[752,777,802,827]}, name:{x:682,y:518}},
  {alpha:[a6_tot_a,a6_crs_a,a6_crd_a,a6_ags_a], beta:[a6_tot_b,a6_crs_b,a6_crd_b,a6_ags_b], xd:[-11,-2], yd:[-2.5,3.5], xt:xTicks11, yt:yTicksP56, notes:notes5, spin:spin5,
   box:{left:0,top:910,w:575,h:474,mL:89,mR:4,mT:16,mB:72}, xlabDy:58, dos:true, leg:{x1:100,x2:147,tx:151,rows:[1216,1242,1267,1293]}, name:{x:117,y:970}},
  {alpha:[a7_tot_a,a7_crs_a,a7_crd_a,a7_ags_a], beta:[a7_tot_b,a7_crs_b,a7_crd_b,a7_ags_b], xd:[-11,-2], yd:[-2.5,3.5], xt:xTicks11, yt:yTicksP56, notes:notes6, spin:spin6,
   box:{left:570,top:910,w:573,h:474,mL:75,mR:10,mT:14,mB:72}, xlabDy:60, dos:false, leg:{x1:660,x2:708,tx:712,rows:[1203,1228,1253,1278]}, name:{x:676,y:968}}
];

const wrap = document.getElementById("wrap");
const fmt = d => String(d);
const TICKFS = 17.5;

panels.forEach((p, k) => {
  const minorX = d3.range(p.xd[0], p.xd[1] + 0.001, 0.5).filter(v => !Number.isInteger(v));
  const minorY = d3.range(Math.ceil(p.yd[0]*2)/2, p.yd[1] + 0.001, 0.5).filter(v => !Number.isInteger(v));
  const marks = [];
  p.beta.forEach((arr, i) => marks.push(Plot.line(arr, {x: d => d[0], y: d => d[1], stroke: colors[i], strokeWidth: 2, strokeDasharray: "5,3.5", curve: "monotone-x"})));
  p.alpha.forEach((arr, i) => marks.push(Plot.line(arr, {x: d => d[0], y: d => d[1], stroke: colors[i], strokeWidth: 2.2, curve: "monotone-x"})));
  marks.push(
    Plot.frame({stroke: "#000", strokeWidth: 1.8}),
    Plot.axisX({ticks: p.xt, tickSize: 5, tickPadding: 2, tickFormat: fmt, fontSize: TICKFS, fontWeight: "bold", label: null, strokeWidth: 1.5}),
    Plot.axisX({ticks: minorX, tickSize: 3, tickFormat: () => "", label: null, strokeWidth: 1.5}),
    Plot.axisY({ticks: p.yt, tickSize: 4, tickPadding: 2, tickFormat: fmt, fontSize: TICKFS, fontWeight: "bold", label: null, strokeWidth: 1.5}),
    Plot.axisY({ticks: minorY, tickSize: 3, tickFormat: () => "", label: null, strokeWidth: 1.5}),
    Plot.text(["Energy (eV)"], {frameAnchor: "bottom", dy: p.xlabDy, text: d => d, fontSize: 20, fontWeight: "bold", fill: "#000"}),
    Plot.text(p.notes, {x: "e", y: "v", text: "t", fontSize: 18.5, fontWeight: "bold", fill: "#000"}),
    Plot.text(p.spin, {x: "e", y: "v", text: "t", fontSize: 21, fontFamily: SERIF, fill: "#333"})
  );
  if (p.dos) marks.push(Plot.text(["DOS"], {frameAnchor: "left", dx: -70, dy: 10, rotate: -90, text: d => d, fontSize: 19, fontWeight: "bold", fill: "#000"}));

  const svg = Plot.plot({
    width: p.box.w, height: p.box.h,
    marginLeft: p.box.mL, marginRight: p.box.mR, marginTop: p.box.mT, marginBottom: p.box.mB,
    x: {domain: p.xd},
    y: {domain: p.yd},
    style: {fontFamily: FONT, background: "none", overflow: "visible", color: "#000"},
    marks
  });
  svg.style.position = "absolute";
  svg.style.left = p.box.left + "px";
  svg.style.top = p.box.top + "px";
  svg.style.maxWidth = "none";
  svg.querySelectorAll("text").forEach(t => {
    if (/^-?\d+$/.test(t.textContent.trim())) {
      t.setAttribute("font-size", TICKFS);
      t.setAttribute("font-weight", "bold");
      t.style.fontSize = TICKFS + "px";
      t.style.fontWeight = "bold";
    }
  });
  wrap.appendChild(svg);

  const nm = document.createElement("div");
  nm.className = "cmp";
  nm.style.left = p.name.x + "px";
  nm.style.top = (p.name.y - 11.3) + "px";
  nm.innerHTML = "Ag<span>" + subscripts[k] + "</span>Cr";
  wrap.appendChild(nm);

  p.leg.rows.forEach((ry, i) => {
    const ln = document.createElement("div");
    ln.style.cssText = `position:absolute;left:${p.leg.x1}px;top:${ry - 1.25}px;width:${p.leg.x2 - p.leg.x1}px;height:2.5px;background:${colors[i]};`;
    wrap.appendChild(ln);
    const tx = document.createElement("div");
    tx.className = "leg";
    tx.style.left = p.leg.tx + "px";
    tx.style.top = (ry - 9.8) + "px";
    tx.textContent = legendLabels[i];
    wrap.appendChild(tx);
  });
});
</script>
</body>
</html>
